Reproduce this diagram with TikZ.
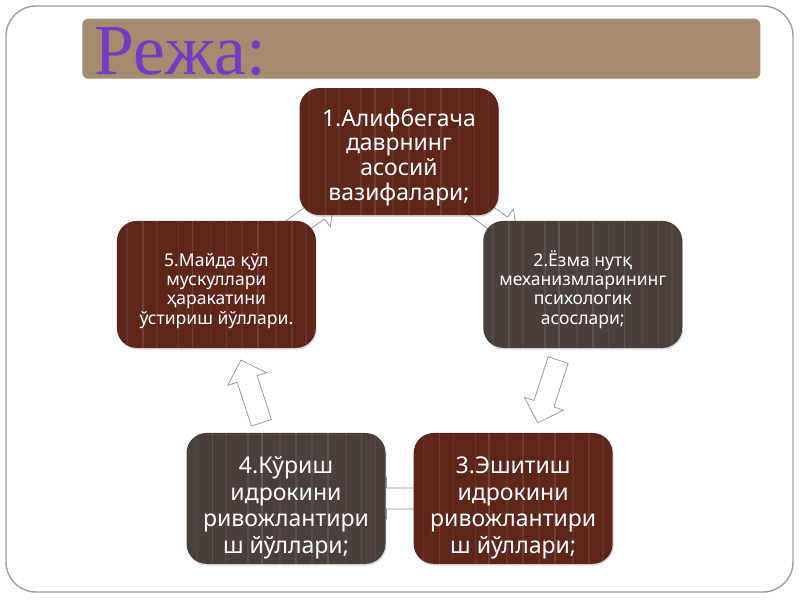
\documentclass[tikz,border=0pt]{standalone}
\usepackage{fontspec}
\setmainfont{Noto Sans}
\newfontfamily\titlefont{Liberation Serif}
\usetikzlibrary{positioning, calc, shadows}

\definecolor{barcol}{RGB}{163,140,110}
\definecolor{redbox}{RGB}{94,38,27}
\definecolor{greybox}{RGB}{74,63,59}
\definecolor{plum}{RGB}{110,62,196}
\pgfdeclarelayer{back}
\pgfsetlayers{back,main}

\tikzset{
tile/.style={rounded corners=0.5cm, minimum width=4.975cm, minimum height=3.175cm, align=center, text=white,
  drop shadow={opacity=0.3, shadow xshift=0.6pt, shadow yshift=-1.2pt},
  path picture={\foreach \s/\o in {0.05/0.06,0.13/0.1,0.2/0.05,0.31/0.08,0.38/0.12,0.47/0.05,0.55/0.09,0.63/0.06,0.71/0.11,0.8/0.05,0.88/0.08,0.95/0.06}
    \draw[white, opacity=\o, line width=1.2pt] ($(path picture bounding box.south west)!\s!(path picture bounding box.south east)$) -- ++(0,3.5);}},
redtile/.style={tile, fill=redbox},
greytile/.style={tile, fill=greybox},
cyc/.style={draw=gray!85, fill=white, line width=0.5pt}
}
% strut on the first line, pushes the text block down a little
\newcommand{\sink}[1]{\rule{0pt}{\dimexpr0.76em+#1\relax}}
\newcommand{\cyclearrow}[2]{%
\draw[cyc] let \p1=($(#2)-(#1)$), \n1={atan2(\y1,\x1)}, \p2=($(#1)!0.5!(#2)$) in
  ($(\p2)+(\n1:-0.825)+(\n1+90:0.2625)$) -- ($(\p2)+(\n1:0.325)+(\n1+90:0.2625)$)
  -- ($(\p2)+(\n1:0.325)+(\n1+90:0.5125)$) -- ($(\p2)+(\n1:0.825)$)
  -- ($(\p2)+(\n1:0.325)+(\n1-90:0.5125)$) -- ($(\p2)+(\n1:0.325)+(\n1-90:0.2625)$)
  -- ($(\p2)+(\n1:-0.825)+(\n1-90:0.2625)$) -- cycle;}

\begin{document}
\begin{tikzpicture}
\useasboundingbox (0,0) rectangle (20,15);
\draw[rounded corners=0.75cm, draw=gray!75, line width=1pt] (0.15,0.2) rectangle (19.825,14.85);
\node[fill=barcol, rounded corners=0.15cm, minimum width=16.95cm, minimum height=1.5cm, anchor=south west] (bar) at (2.05,13.025) {};
\node[font=\titlefont\fontsize{51}{51}\selectfont, text=plum, anchor=base west, inner sep=0pt] (title) at (2.35,13.125) {Режа:};

\node[redtile, font=\fontsize{16.3}{17.6}\selectfont] (1) at (9.975,11.21) {\sink{8pt}1.Алифбегача\\даврнинг\\асосий\\вазифалари;};
\node[redtile, font=\fontsize{12.5}{13.7}\selectfont] (5) at (5.41,7.89) {\sink{9pt}5.Майда қўл\\мускуллари\\ҳаракатини\\ўстириш йўллари.};
\node[greytile, font=\fontsize{12.5}{13.7}\selectfont, right=4.17cm of 5] (2) {\sink{9pt}2.Ёзма нутқ\\механизмларининг\\психологик\\асослари;};
\node[greytile, font=\fontsize{16.4}{19}\selectfont] (4) at (7.15,2.54) {\sink{13pt}4.Кўриш\\идрокини\\ривожлантири\\ш йўллари;};
\node[redtile, font=\fontsize{16.4}{19}\selectfont, right=0.69cm of 4] (3) {\sink{13pt}3.Эшитиш\\идрокини\\ривожлантири\\ш йўллари;};

\begin{pgfonlayer}{back}
\cyclearrow{1}{2}
\cyclearrow{2}{3}
\cyclearrow{3}{4}
\cyclearrow{4}{5}
\cyclearrow{5}{1}
\end{pgfonlayer}
\end{tikzpicture}
\end{document}
